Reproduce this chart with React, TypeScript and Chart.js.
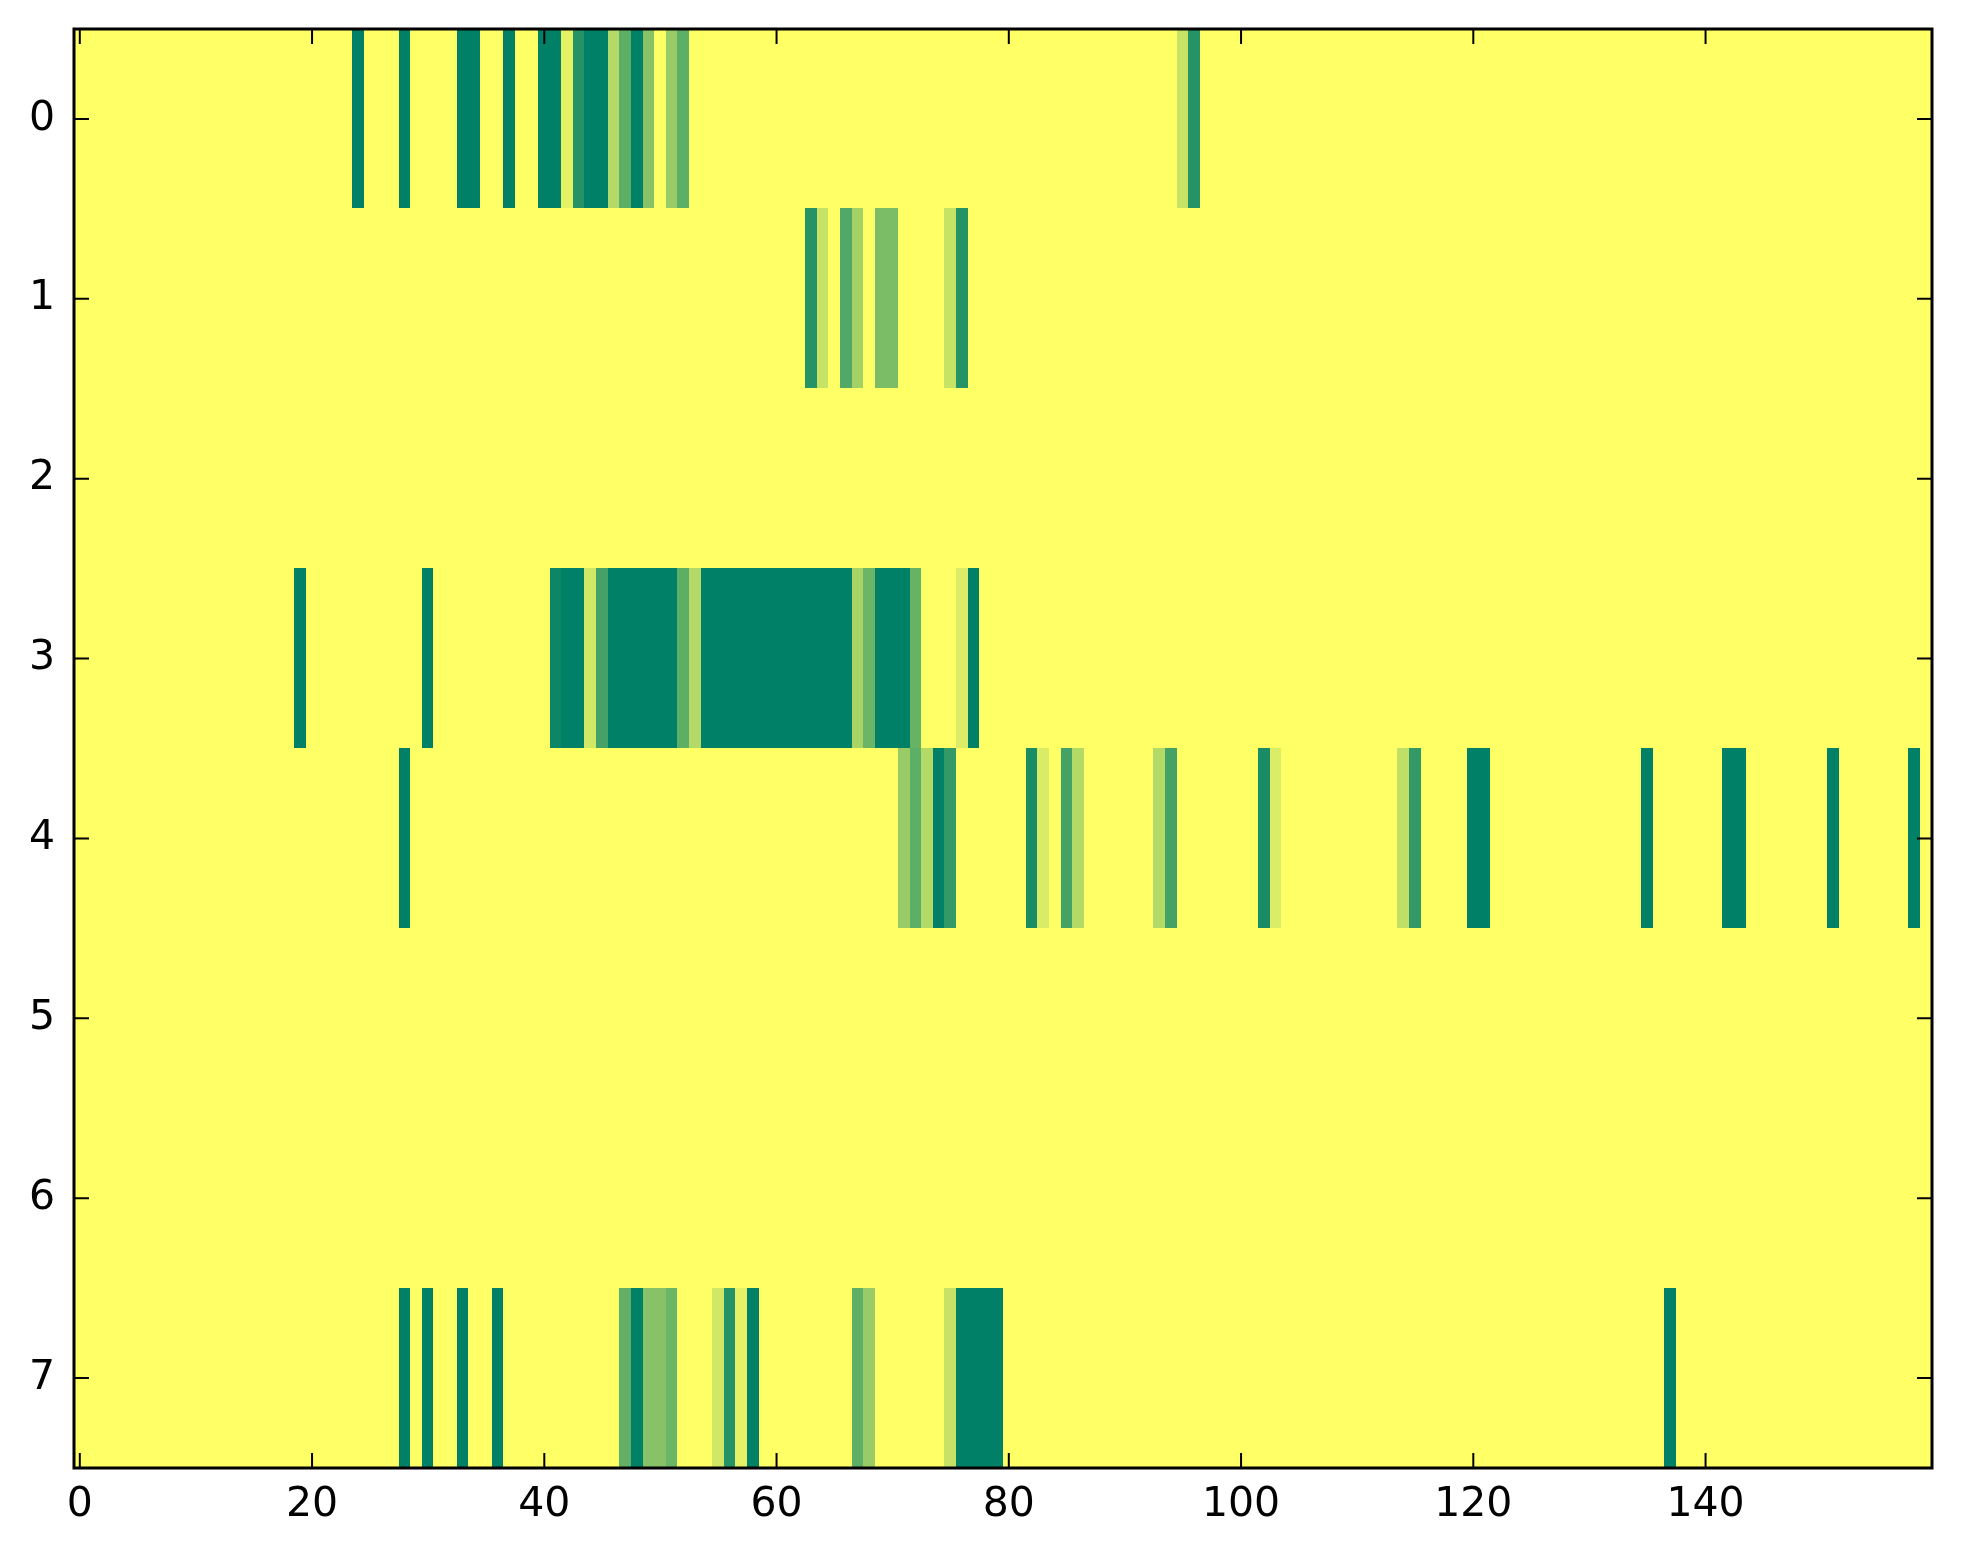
import { useEffect, useRef } from 'react';
import { Chart, registerables } from 'chart.js';

Chart.register(...registerables);

// Heatmap: 8 rows x 160 columns, values 0..1 shown with the "summer_r" colormap.
const nCols = 160;
const rowLabels = ['0', '1', '2', '3', '4', '5', '6', '7'];
const xTickValues = [0, 20, 40, 60, 80, 100, 120, 140];
const xTickLabels = ['0', '20', '40', '60', '80', '100', '120', '140'];

// Non-zero cells per row: [column, value]
const row0: [number, number][] = [
  [24, 1], [28, 1], [33, 1], [34, 1], [37, 1], [40, 1], [41, 1], [42, 0.1], [43, 0.85],
  [44, 1], [45, 1], [46, 0.3], [47, 0.63], [48, 1], [49, 0.47], [51, 0.4], [52, 0.63],
  [95, 0.22], [96, 0.85],
];
const row1: [number, number][] = [
  [63, 0.85], [64, 0.22], [66, 0.68], [67, 0.36], [69, 0.52], [70, 0.52], [75, 0.22], [76, 0.85],
];
const row2: [number, number][] = [];
const row3: [number, number][] = [
  [19, 1], [30, 1], [41, 0.95], [42, 1], [43, 1], [44, 0.18], [45, 0.73],
  [46, 1], [47, 1], [48, 1], [49, 1], [50, 1], [51, 1], [52, 0.63], [53, 0.3],
  [54, 1], [55, 1], [56, 1], [57, 1], [58, 1], [59, 1], [60, 1], [61, 1], [62, 1],
  [63, 1], [64, 1], [65, 1], [66, 1], [67, 0.34], [68, 0.58], [69, 1], [70, 1], [71, 1],
  [72, 0.6], [76, 0.14], [77, 1],
];
const row4: [number, number][] = [
  [28, 1], [71, 0.4], [72, 0.63], [73, 0.3], [74, 1], [75, 0.8], [82, 0.9], [83, 0.15],
  [85, 0.73], [86, 0.3], [93, 0.3], [94, 0.73], [102, 0.9], [103, 0.14], [114, 0.25],
  [115, 0.8], [120, 1], [121, 1], [135, 1], [142, 1], [143, 1], [151, 1], [158, 1],
];
const row5: [number, number][] = [];
const row6: [number, number][] = [];
const row7: [number, number][] = [
  [28, 1], [30, 1], [33, 1], [36, 1], [47, 0.62], [48, 1], [49, 0.47], [50, 0.47],
  [51, 0.58], [55, 0.18], [56, 0.85], [57, 0.1], [58, 1], [67, 0.63], [68, 0.4],
  [75, 0.22], [76, 1], [77, 1], [78, 1], [79, 1], [137, 1],
];

const rows = [row0, row1, row2, row3, row4, row5, row6, row7];

function summerR(v: number): string {
  const r = Math.round(255 * (1 - v));
  const g = Math.round(255 * (1 - 0.5 * v));
  return `rgb(${r},${g},102)`;
}

function buildCells() {
  const cells: { x: number; y: number; v: number }[] = [];
  rows.forEach((row, r) => {
    const vals = new Array(nCols).fill(0);
    row.forEach(([c, v]) => { vals[c] = v; });
    vals.forEach((v, c) => cells.push({ x: c, y: r, v }));
  });
  return cells;
}

const FONT = { family: "'DejaVu Sans', sans-serif", size: 41 };

const heatmapPlugin = {
  id: 'heatmapCells',
  beforeDatasetsDraw(chart: any) {
    const { ctx, chartArea } = chart;
    const xs = chart.scales.x;
    const ys = chart.scales.y;
    const data = chart.data.datasets[0].data as { x: number; y: number; v: number }[];
    ctx.save();
    ctx.beginPath();
    ctx.rect(chartArea.left, chartArea.top, chartArea.right - chartArea.left, chartArea.bottom - chartArea.top);
    ctx.clip();
    for (const d of data) {
      const x0 = xs.getPixelForValue(d.x - 0.5);
      const x1 = xs.getPixelForValue(d.x + 0.5);
      const y0 = ys.getPixelForValue(d.y - 0.5);
      const y1 = ys.getPixelForValue(d.y + 0.5);
      ctx.fillStyle = summerR(d.v);
      const left = Math.floor(Math.min(x0, x1));
      const right = Math.ceil(Math.max(x0, x1));
      const top = Math.floor(Math.min(y0, y1));
      const bottom = Math.ceil(Math.max(y0, y1));
      ctx.fillRect(left, top, right - left, bottom - top);
    }
    ctx.restore();
  },
  afterDraw(chart: any) {
    const { ctx, chartArea } = chart;
    const xs = chart.scales.x;
    const ys = chart.scales.y;
    const tl = 15;
    ctx.save();
    ctx.strokeStyle = '#000';
    ctx.lineWidth = 2;
    ctx.beginPath();
    xTickValues.forEach((v) => {
      const px = xs.getPixelForValue(v);
      ctx.moveTo(px, chartArea.bottom);
      ctx.lineTo(px, chartArea.bottom - tl);
      ctx.moveTo(px, chartArea.top);
      ctx.lineTo(px, chartArea.top + tl);
    });
    rowLabels.forEach((_, i) => {
      const py = ys.getPixelForValue(i);
      ctx.moveTo(chartArea.left, py);
      ctx.lineTo(chartArea.left + tl, py);
      ctx.moveTo(chartArea.right, py);
      ctx.lineTo(chartArea.right - tl, py);
    });
    ctx.stroke();
    ctx.lineWidth = 3;
    ctx.strokeRect(chartArea.left, chartArea.top, chartArea.right - chartArea.left, chartArea.bottom - chartArea.top);
    ctx.restore();
  },
};

export default function App() {
  const ref = useRef<HTMLCanvasElement | null>(null);
  useEffect(() => {
    if (!ref.current) return;
    const chart = new Chart(ref.current, {
      type: 'scatter',
      data: {
        datasets: [
          {
            data: buildCells(),
            pointRadius: 0,
            pointHoverRadius: 0,
          } as any,
        ],
      },
      options: {
        animation: false,
        responsive: true,
        maintainAspectRatio: false,
        devicePixelRatio: 1,
        events: [],
        layout: { padding: { left: 0, top: 29, right: 31, bottom: 0 } },
        plugins: { legend: { display: false }, tooltip: { enabled: false } },
        scales: {
          x: {
            type: 'linear',
            min: -0.5,
            max: nCols - 0.5,
            grid: { display: false, drawTicks: false },
            border: { display: false },
            afterBuildTicks: (scale: any) => {
              scale.ticks = xTickValues.map((v) => ({ value: v }));
            },
            afterFit: (scale: any) => {
              scale.height = 96;
              scale.paddingLeft = 0;
              scale.paddingRight = 0;
            },
            ticks: {
              autoSkip: false,
              maxRotation: 0,
              padding: 13,
              color: '#000',
              font: FONT,
              callback: (v: any) => {
                const i = xTickValues.indexOf(Number(v));
                return i >= 0 ? xTickLabels[i] : '';
              },
            },
          },
          y: {
            type: 'linear',
            reverse: true,
            min: -0.5,
            max: rowLabels.length - 0.5,
            grid: { display: false, drawTicks: false },
            border: { display: false },
            afterBuildTicks: (scale: any) => {
              scale.ticks = rowLabels.map((_, i) => ({ value: i }));
            },
            afterFit: (scale: any) => {
              scale.width = 74;
              scale.paddingTop = 0;
              scale.paddingBottom = 0;
            },
            ticks: {
              autoSkip: false,
              padding: 19,
              color: '#000',
              font: FONT,
              callback: (v: any) => {
                const i = Number(v);
                return Number.isInteger(i) && rowLabels[i] !== undefined ? rowLabels[i] : '';
              },
            },
          },
        },
      },
      plugins: [heatmapPlugin],
    });
    return () => chart.destroy();
  }, []);

  return (
    <div style={{ position: 'absolute', left: 0, top: 0, width: 1963, height: 1564, background: '#fff' }}>
      <canvas ref={ref} />
    </div>
  );
}
